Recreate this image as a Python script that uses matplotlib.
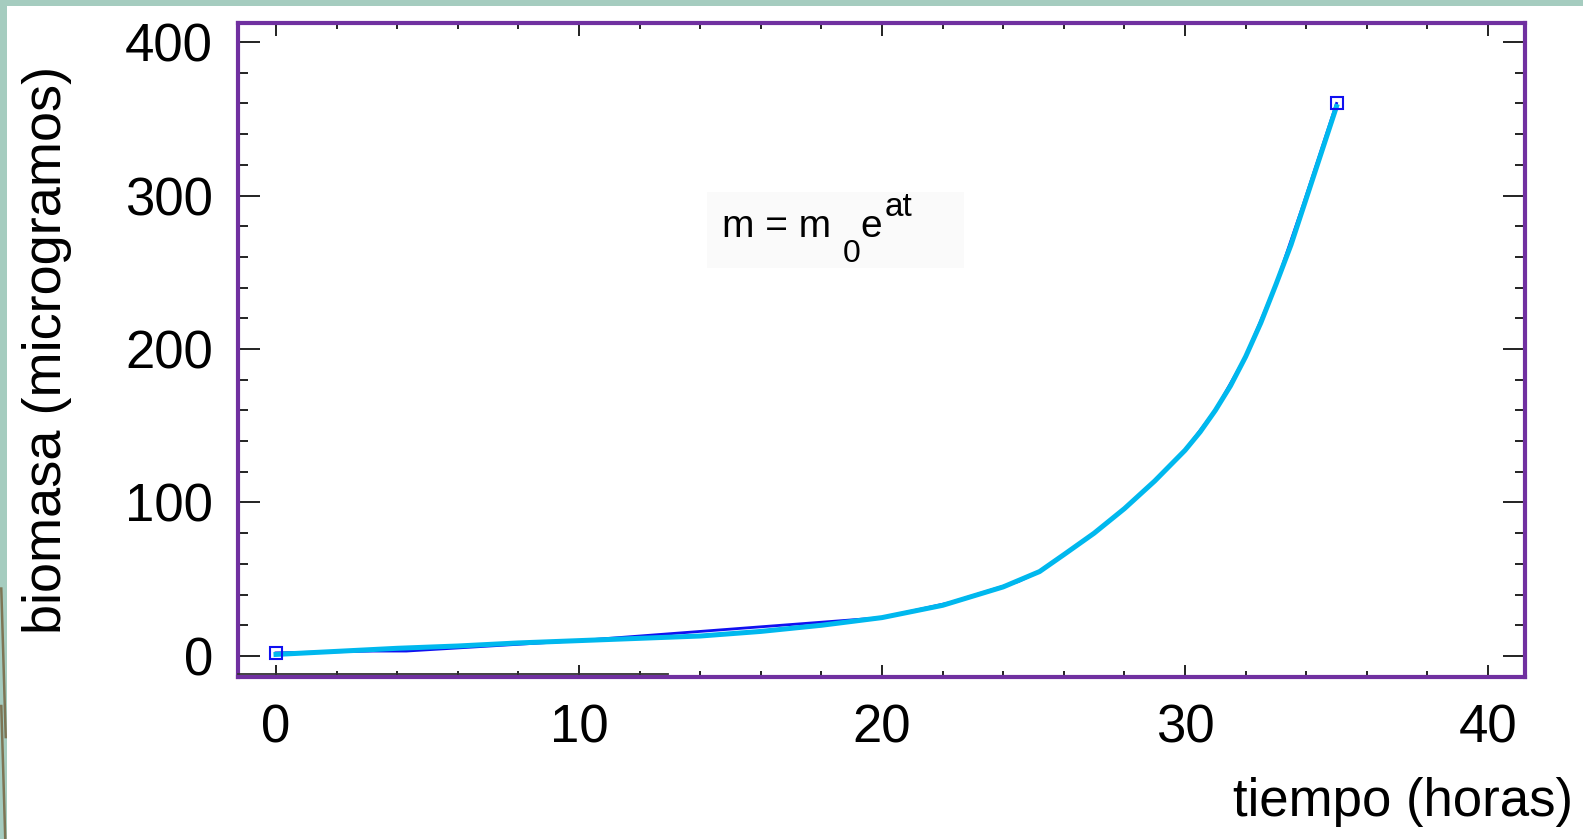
import numpy as np
import matplotlib
matplotlib.use("Agg")
import matplotlib.pyplot as plt
from matplotlib.patches import Rectangle, Polygon
from matplotlib.ticker import MultipleLocator

plt.rcParams['font.family'] = ['Liberation Sans', 'DejaVu Sans']

# fitted curve (cyan)
tiempo = [0, 2, 4, 6, 8, 10, 12, 14, 16, 18, 20, 22, 24, 25.2, 26, 27, 28, 29, 30,
          30.5, 31, 31.5, 32, 32.5, 33, 33.5, 34, 34.5, 35]
biomasa = [1, 3, 5, 6.5, 8.5, 10, 11.5, 13, 16, 20, 25, 33, 45, 55, 66, 80, 96, 114, 134,
           146, 160, 176, 195, 217, 242, 268, 298, 328, 358]

# measured data (dark blue, mostly hidden under the fit)
t_datos = [0, 3.2, 4.3, 10, 20, 22.3, 24.5, 25.2, 26, 27, 28, 29, 30, 31, 32, 33, 33.9, 35]
m_datos = [2, 3.2, 3.2, 10, 25, 35, 48.5, 55, 66, 80, 96, 114, 134, 160, 195, 242, 294, 360]

purple = '#7030A0'
cyan = '#00B8EE'
dark_blue = '#1010F0'

fig = plt.figure(figsize=(15.83, 8.39), dpi=100)
fig.patch.set_facecolor('white')

# slide decoration: teal strips on top and left
fig.patches.append(Rectangle((0, 1 - 6 / 839), 1, 6 / 839, transform=fig.transFigure,
                             facecolor='#A5CCBF', edgecolor='none', zorder=0))
fig.patches.append(Rectangle((0, 0), 7 / 1583, 1, transform=fig.transFigure,
                             facecolor='#A5CCBF', edgecolor='none', zorder=0))
for (y0, y1) in [(0.30, 0.12), (0.16, -0.02)]:
    fig.patches.append(Polygon([(0, y0), (2.5 / 1583, y0), (7 / 1583, y1), (4.5 / 1583, y1)],
                               closed=True, transform=fig.transFigure,
                               facecolor='#7D7555', edgecolor='none', zorder=1))

# faint box behind the equation
fig.patches.append(Rectangle((707 / 1583, 1 - 268 / 839), 257 / 1583, 76 / 839,
                             transform=fig.transFigure, facecolor='#FAFAFA',
                             edgecolor='none', zorder=0.5))

ax = fig.add_axes([238 / 1583, 1 - 677 / 839, (1525 - 238) / 1583, (677 - 23) / 839])
ax.patch.set_alpha(0)

ax.plot(t_datos, m_datos, color=dark_blue, lw=2, zorder=2)
ax.plot(tiempo, biomasa, color=cyan, lw=3.6, zorder=3)
ax.plot([t_datos[0], t_datos[-1]], [m_datos[0], m_datos[-1]], ls='none', marker='s', markersize=8,
        markerfacecolor='none', markeredgecolor=dark_blue, markeredgewidth=1.5, zorder=4)

ax.set_xlim(-1.254, 41.22)
ax.set_ylim(-13.7, 412.4)

ax.xaxis.set_major_locator(MultipleLocator(10))
ax.xaxis.set_minor_locator(MultipleLocator(2))
ax.yaxis.set_major_locator(MultipleLocator(100))
ax.yaxis.set_minor_locator(MultipleLocator(20))

for s in ax.spines.values():
    s.set_color(purple)
    s.set_linewidth(3)
# dark overlay on the left part of the bottom frame, as in the original
ax.plot([0, 0.334], [0.004, 0.004], transform=ax.transAxes, color='#333333', lw=1.3,
        clip_on=False, zorder=5)

ax.tick_params(axis='both', which='both', direction='in', colors='#222222', width=1.4,
               top=True, right=True, labelsize=38)
ax.tick_params(axis='x', which='major', length=9, pad=19)
ax.tick_params(axis='x', which='minor', length=4.5)
ax.tick_params(axis='y', which='major', length=16, pad=18)
ax.tick_params(axis='y', which='minor', length=7)
ax.tick_params(labelcolor='black')

ax.set_ylabel('biomasa (microgramos)', fontsize=39, labelpad=38)
fig.text(1573 / 1583, 1 - 816 / 839, 'tiempo (horas)', fontsize=38, ha='right', va='baseline')

# equation m = m0 e^at, pieces placed like the original
eq = dict(ha='left', va='baseline', color='black')
fig.text(722 / 1583, 1 - 237 / 839, 'm = m', fontsize=28, **eq)
fig.text(843 / 1583, 1 - 262 / 839, '0', fontsize=23, **eq)
fig.text(860 / 1583, 1 - 237 / 839, 'e', fontsize=28, **eq)
fig.text(885 / 1583, 1 - 216 / 839, 'at', fontsize=24, **eq)

fig.savefig('out.png', dpi=100)
